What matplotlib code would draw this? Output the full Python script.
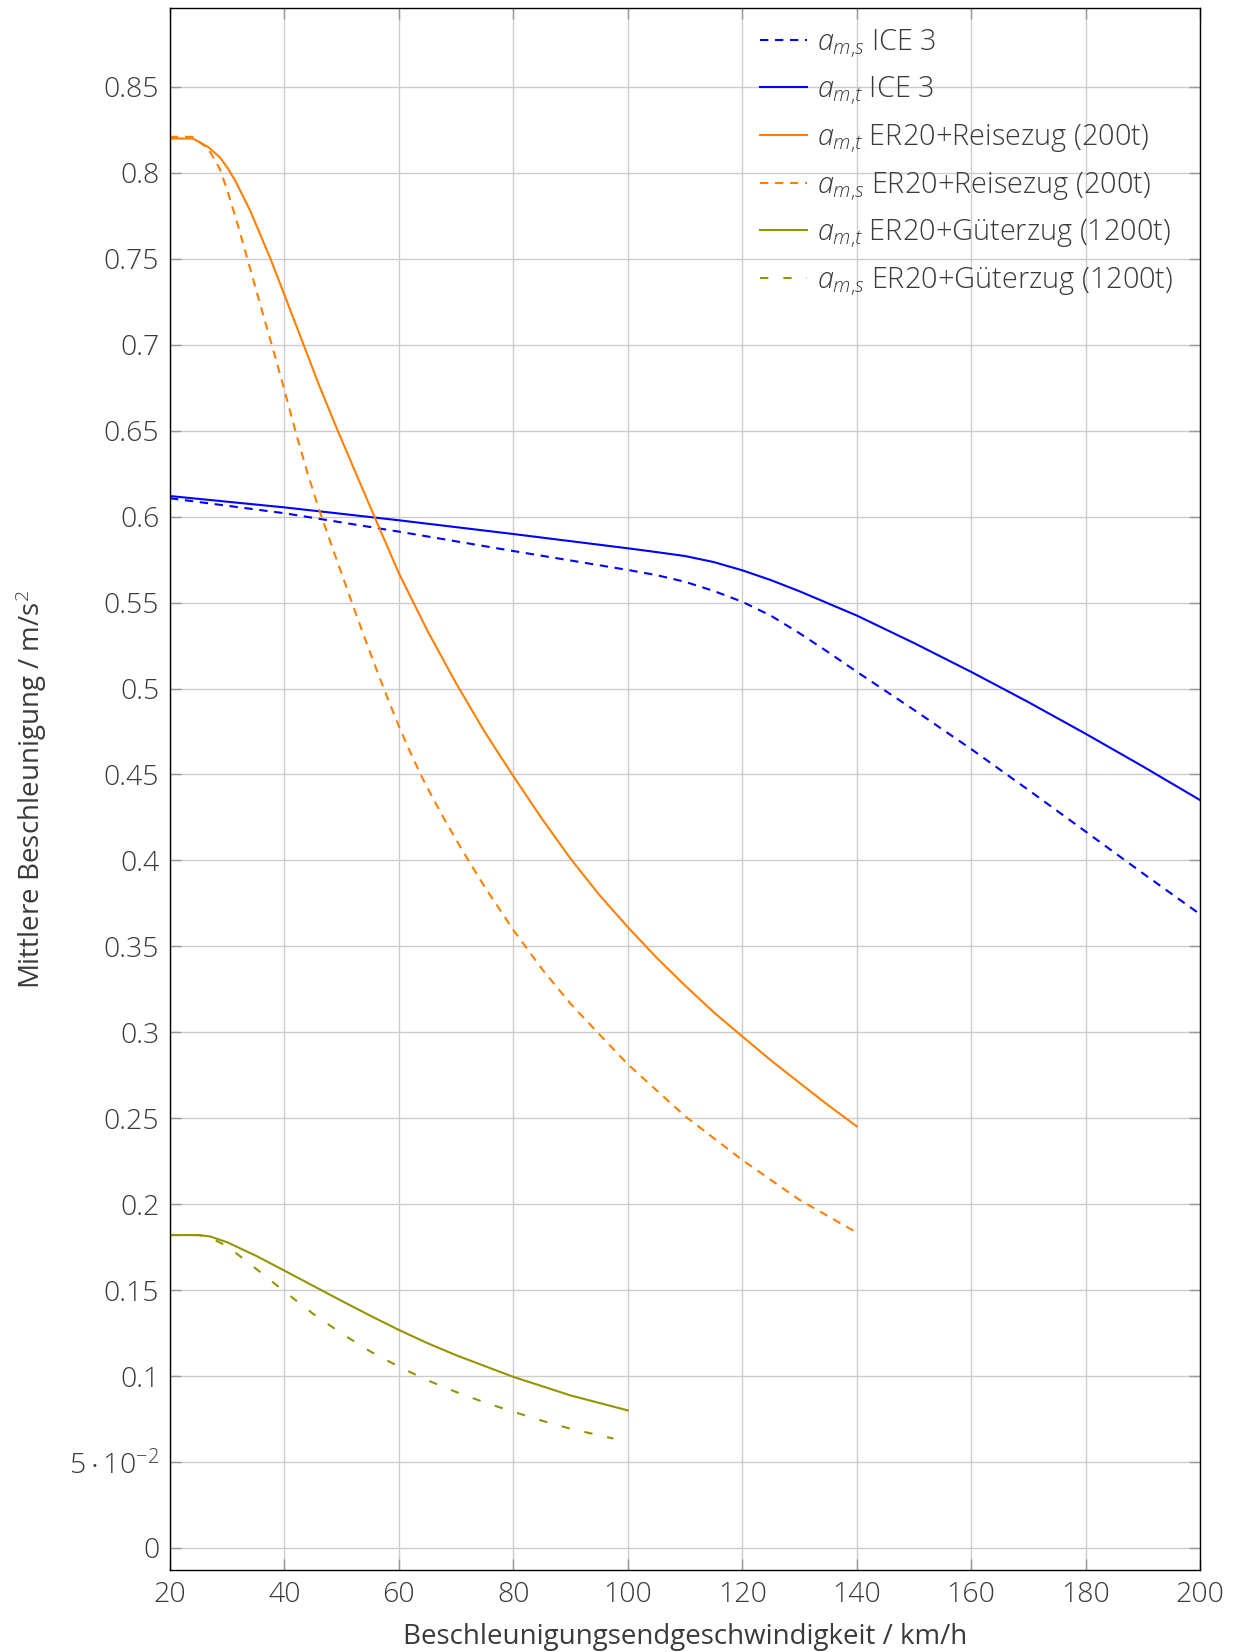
"""
Mittlere Beschleunigung vs. Beschleunigungsendgeschwindigkeit
(ICE 3, ER20 + Reisezug, ER20 + Güterzug)
"""

import matplotlib
matplotlib.use("Agg")
import matplotlib.pyplot as plt


# ----------------------------
# Data
# ----------------------------

ice_t_v = [20, 40, 60, 80, 100, 105, 110, 115, 120, 125, 130, 140, 150, 160, 170, 180,
           190, 200]
ice_t_a = [0.612, 0.6054, 0.5979, 0.5899, 0.5816, 0.5794, 0.5771, 0.5736, 0.5688,
           0.5631, 0.5566, 0.5425, 0.5265, 0.5097, 0.4921, 0.4737, 0.4547, 0.4351]

ice_s_v = [20, 40, 60, 80, 100, 105, 110, 115, 120, 125, 130, 135, 140, 150, 160, 170,
           180, 190, 200]
ice_s_a = [0.6107, 0.602, 0.5913, 0.580, 0.569, 0.566, 0.5621, 0.5568, 0.5505, 0.5424,
           0.5322, 0.5212, 0.5098, 0.4876, 0.4648, 0.441, 0.4168, 0.3925, 0.3687]

rz_t_v = [20, 24, 26.7, 28.7, 30, 31.4, 34, 37.5, 40, 43, 46, 49, 52, 55, 60, 65, 70, 75,
          80, 85, 90, 95, 100, 105, 110, 115, 120, 125, 130, 135, 140]
rz_t_a = [0.82, 0.82, 0.815, 0.8091, 0.8032, 0.7955, 0.7781, 0.7505, 0.729, 0.703,
          0.6769, 0.6525, 0.629, 0.6056, 0.567, 0.5335, 0.503, 0.4747, 0.449, 0.4242,
          0.401, 0.380, 0.3612, 0.3435, 0.3272, 0.3117, 0.2976, 0.2837, 0.2706, 0.2576,
          0.2453]

rz_s_v = [20, 24, 26.7, 28.7, 30, 32, 34, 36, 38, 40, 42, 44, 46, 48, 50, 52, 54, 56,
          58, 60, 62, 64, 66, 68, 70, 72, 75, 80, 85, 90, 95, 100, 110, 120, 130, 140]
rz_s_a = [0.821, 0.821, 0.814, 0.8023, 0.790, 0.768, 0.7444, 0.7207, 0.6974, 0.6735,
          0.6488, 0.6256, 0.6046, 0.5855, 0.5667, 0.548, 0.5296, 0.5118, 0.4946, 0.478,
          0.4628, 0.4486, 0.4358, 0.4236, 0.412, 0.4008, 0.3845, 0.3595, 0.3368, 0.3166,
          0.2989, 0.2814, 0.2512, 0.2257, 0.2025, 0.1835]

gz_t_v = [20, 25, 27, 30, 35, 40, 45, 50, 55, 60, 65, 70, 80, 90, 100]
gz_t_a = [0.182, 0.182, 0.1812, 0.1778, 0.170, 0.1613, 0.1525, 0.1437, 0.1351, 0.1268,
          0.1191, 0.1121, 0.0995, 0.0887, 0.080]

gz_s_v = [20, 25, 27, 30, 35, 40, 45, 50, 55, 60, 65, 70, 75, 80, 85, 90, 97.5]
gz_s_a = [0.182, 0.182, 0.1805, 0.1755, 0.1625, 0.1492, 0.1362, 0.1247, 0.1143, 0.1054,
          0.0975, 0.0907, 0.0846, 0.0792, 0.074, 0.0693, 0.0636]

x_ticks = [20, 40, 60, 80, 100, 120, 140, 160, 180, 200]
y_ticks = [0, 0.05, 0.1, 0.15, 0.2, 0.25, 0.3, 0.35, 0.4, 0.45, 0.5, 0.55, 0.6,
           0.65, 0.7, 0.75, 0.8, 0.85]


# ----------------------------
# Styling
# ----------------------------

BLUE = "#0000ff"
ORANGE = "#ff8000"
OLIVE = "#949400"
TEXT = "#3a3a3a"
GRID = "#cccccc"

DASHED = (0, (4, 3.2))
LOOSE = (0, (4, 7.2))

plt.rcParams["font.family"] = ["Open Sans", "DejaVu Sans"]
plt.rcParams["font.weight"] = "light"
plt.rcParams["mathtext.fontset"] = "custom"
plt.rcParams["mathtext.rm"] = "Open Sans:light"
plt.rcParams["mathtext.it"] = "Open Sans:italic:light"
plt.rcParams["mathtext.bf"] = "Open Sans:bold"


def _ytick_label(v: float) -> str:
    if v == 0:
        return "0"
    if abs(v - 0.05) < 1e-9:
        return r"$5\cdot10^{-2}$"
    return f"{v:g}"


fig = plt.figure(figsize=(12.41, 16.52), dpi=100)
ax = fig.add_axes([0.137, 0.0496, 0.83, 0.9456])

lw = 1.5
ax.plot(ice_s_v, ice_s_a, color=BLUE, lw=lw, linestyle=DASHED, label=r"$a_{m{,}s}$ ICE 3")
ax.plot(ice_t_v, ice_t_a, color=BLUE, lw=lw, label=r"$a_{m{,}t}$ ICE 3")
ax.plot(rz_t_v, rz_t_a, color=ORANGE, lw=lw, label=r"$a_{m{,}t}$ ER20+Reisezug (200t)")
ax.plot(rz_s_v, rz_s_a, color=ORANGE, lw=lw, linestyle=DASHED,
        label=r"$a_{m{,}s}$ ER20+Reisezug (200t)")
ax.plot(gz_t_v, gz_t_a, color=OLIVE, lw=lw, label=r"$a_{m{,}t}$ ER20+Güterzug (1200t)")
ax.plot(gz_s_v, gz_s_a, color=OLIVE, lw=lw, linestyle=LOOSE,
        label=r"$a_{m{,}s}$ ER20+Güterzug (1200t)")

ax.set_xlim(20, 200)
ax.set_ylim(-0.0129, 0.896)

ax.set_xticks(x_ticks)
ax.set_xticklabels([str(v) for v in x_ticks])
ax.set_yticks(y_ticks)
ax.set_yticklabels([_ytick_label(v) for v in y_ticks])

ax.grid(True, color=GRID, lw=1.0)
ax.set_axisbelow(True)
ax.tick_params(direction="in", length=8, width=1, color="#999999",
               top=True, right=True, labelsize=20.5, labelcolor=TEXT, pad=7.7)
for s in ax.spines.values():
    s.set_color("black")
    s.set_linewidth(1.0)

ax.set_xlabel("Beschleunigungsendgeschwindigkeit / km/h", fontsize=20, color=TEXT, labelpad=10)
ax.set_ylabel(r"Mittlere Beschleunigung / m/s$^2$", fontsize=20, color=TEXT, labelpad=14.3)

leg = ax.legend(
    loc="upper left",
    bbox_to_anchor=(0.548, 1.0046),
    frameon=False,
    fontsize=20.8,
    handlelength=1.6,
    handletextpad=0.36,
    labelspacing=0.505,
)
for t in leg.get_texts():
    t.set_color(TEXT)

fig.savefig("out.png", dpi=100)
plt.close(fig)
